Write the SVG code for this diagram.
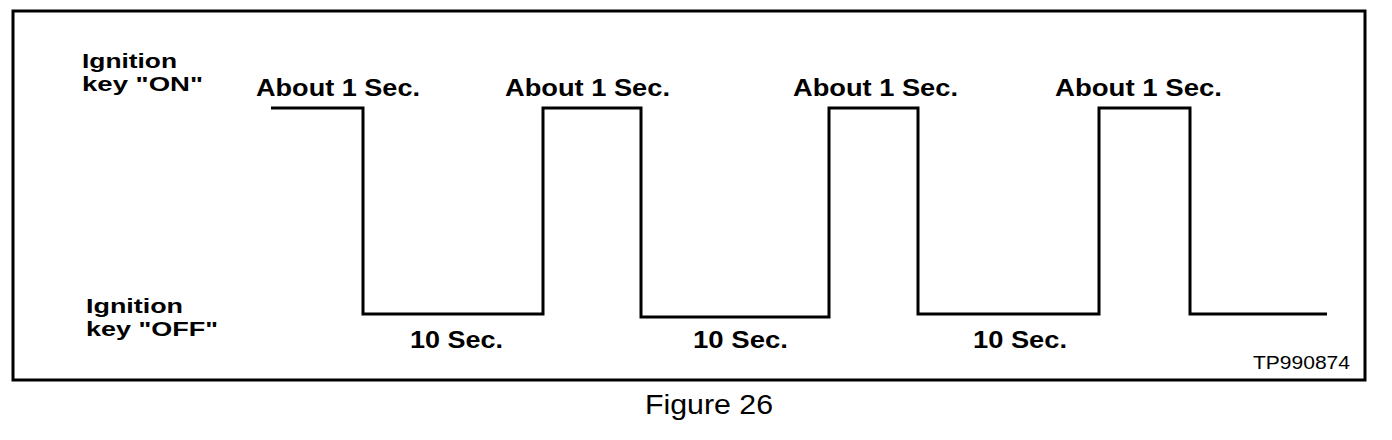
<svg xmlns="http://www.w3.org/2000/svg" width="1392" height="440" viewBox="0 0 1392 440">
<style>
.b{font-family:"Liberation Sans",Arial,sans-serif;font-weight:bold;font-size:23px;fill:#000}
.s{font-size:20px}
.r{font-family:"Liberation Sans",Arial,sans-serif;font-size:19px;fill:#000}
.f{font-family:"Liberation Sans",Arial,sans-serif;font-size:28px;fill:#000}
.line{fill:none;stroke:#000;stroke-width:3;stroke-linejoin:miter}
</style>
<rect x="0" y="0" width="1392" height="440" fill="#fff"/>
<g id="frame"><rect x="13" y="11" width="1352" height="369" class="line"/></g>
<g id="label-on">
<text class="b s" x="82" y="68" textLength="95" lengthAdjust="spacingAndGlyphs">Ignition</text>
<text class="b s" x="82" y="91" textLength="121" lengthAdjust="spacingAndGlyphs">key "ON"</text>
</g>
<g id="label-off">
<text class="b s" x="86" y="313" textLength="97" lengthAdjust="spacingAndGlyphs">Ignition</text>
<text class="b s" x="86" y="336" textLength="132" lengthAdjust="spacingAndGlyphs">key "OFF"</text>
</g>
<g id="connectors">
<path class="line" d="M271,108 H363 V314 H543 V108 H641 V317 H829 V108 H918 V314 H1099 V108 H1190 V314 H1327"/>
</g>
<g id="on-labels">
<text class="b" x="256" y="96" textLength="164" lengthAdjust="spacingAndGlyphs">About 1 Sec.</text>
<text class="b" x="505" y="96" textLength="165" lengthAdjust="spacingAndGlyphs">About 1 Sec.</text>
<text class="b" x="793" y="96" textLength="165" lengthAdjust="spacingAndGlyphs">About 1 Sec.</text>
<text class="b" x="1055" y="96" textLength="167" lengthAdjust="spacingAndGlyphs">About 1 Sec.</text>
</g>
<g id="off-labels">
<text class="b" x="410" y="348" textLength="93" lengthAdjust="spacingAndGlyphs">10 Sec.</text>
<text class="b" x="693" y="348" textLength="95" lengthAdjust="spacingAndGlyphs">10 Sec.</text>
<text class="b" x="973" y="348" textLength="94" lengthAdjust="spacingAndGlyphs">10 Sec.</text>
</g>
<g id="ids">
<text class="r" x="1253" y="369" textLength="97" lengthAdjust="spacingAndGlyphs">TP990874</text>
<text class="f" x="645" y="414" textLength="128" lengthAdjust="spacingAndGlyphs">Figure 26</text>
</g>
</svg>
